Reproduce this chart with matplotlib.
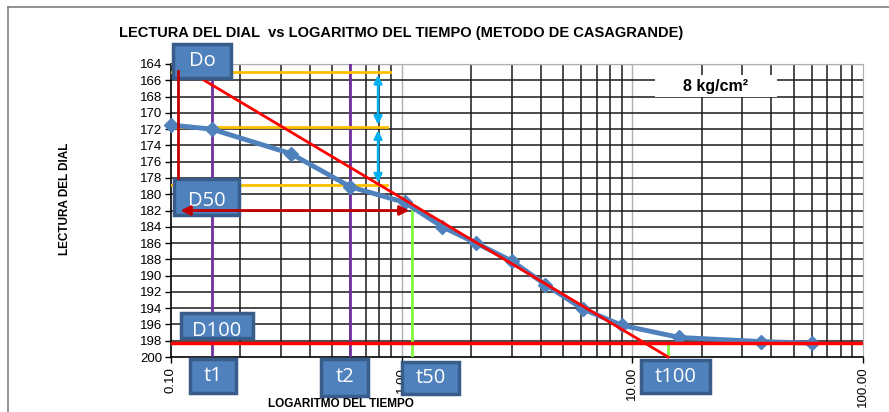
import matplotlib
matplotlib.use("Agg")
import matplotlib.pyplot as plt
import matplotlib.transforms as mtransforms
from matplotlib.patches import Rectangle
from matplotlib.lines import Line2D
import numpy as np

plt.rcParams['font.family'] = ['Liberation Sans', 'DejaVu Sans']

# ---- data ----
tiempo = [0.10, 0.15, 0.33, 0.60, 1.03, 1.5, 2.1, 3.0, 4.2, 6.1, 9.0, 16.0, 36.0, 60.0]
lectura = [171.5, 172.0, 175.0, 179.1, 181.0, 184.0, 186.0, 188.2, 191.1, 194.1, 196.1, 197.6, 198.1, 198.3]

# Casagrande construction values
t1 = 0.15
t2 = 0.60
t50 = 1.11
t100 = 14.3
d0 = 165.0
d1 = 171.8
d2 = 178.9
d50 = 182.0
d100 = 198.3
tangent_t = [0.1336, 14.3]
tangent_d = [165.7, 200.0]
x_arrow_blue = 0.79
yticks = list(range(164, 201, 2))
xticks = [0.1, 1, 10, 100]
xticklabels = ["0.10", "1.00", "10.00", "100.00"]

W, H = 889, 412
fig = plt.figure(figsize=(W / 100, H / 100), dpi=100)
fig.patch.set_facecolor('white')

L, R, T, B = 171, 863, 64, 357
ax = fig.add_axes([L / W, 1 - B / H, (R - L) / W, (B - T) / H])
ax.set_xscale('log')
ax.set_xlim(0.1, 100)
ax.set_ylim(200, 164)

# grid
minor = [m * 10.0 ** e for e in (-1, 0, 1) for m in range(2, 10)]
for x in minor:
    ax.axvline(x, color='#1a1a1a', lw=1.1, zorder=1)
for x in [1, 10]:
    ax.axvline(x, color='#b0b0b0', lw=1.0, zorder=1)
for y in yticks[1:-1]:
    ax.axhline(y, color='#1a1a1a', lw=1.1, zorder=1)
ax.axhline(164, color='#b0b0b0', lw=1.0, zorder=1)

for s in ['top', 'right']:
    ax.spines[s].set_color('#b0b0b0')
for s in ['left', 'bottom']:
    ax.spines[s].set_color('black')
    ax.spines[s].set_linewidth(1.2)

ax.set_yticks(yticks)
ax.set_yticklabels([str(v) for v in yticks], fontsize=9.5)
ax.set_xticks(xticks)
ax.set_xticklabels(xticklabels, rotation=90, fontsize=9.5)
ax.xaxis.set_minor_locator(matplotlib.ticker.NullLocator())
ax.tick_params(axis='y', length=4, width=1, pad=2)
ax.tick_params(axis='x', length=4, width=1, pad=3, direction='out')

# construction lines
ax.plot([t1, t1], [164, 200], color='#7030a0', lw=2, zorder=3)
ax.plot([t2, t2], [164, 200], color='#7030a0', lw=2, zorder=3)
ax.plot([0.1, 0.89], [d0, d0], color='#ffc000', lw=2, zorder=3)
ax.plot([0.1, 0.86], [d1, d1], color='#ffc000', lw=2, zorder=3)
ax.plot([0.1, 0.86], [d2, d2], color='#ffc000', lw=2, zorder=3)
ax.plot([t50, t50], [d50, 200], color='#7cfc3c', lw=2, zorder=3)
ax.plot([t100, t100], [d100, 200], color='#7cfc3c', lw=2, zorder=3)

# data series
ax.plot(tiempo, lectura, color='#4f81bd', lw=3.5, marker='D', markersize=7,
        markerfacecolor='#4f81bd', markeredgecolor='#4f81bd', zorder=4, clip_on=False)

ax.plot(tangent_t, tangent_d, color='#ff0000', lw=2, zorder=5, clip_on=False)
ax.plot([0.1, 98], [d100, d100], color='#ff0000', lw=2.5, zorder=5)

# pixel transform for annotation boxes (reference pixel coords)
ptrans = mtransforms.Affine2D().scale(1 / W, -1 / H).translate(0, 1) + fig.transFigure

boxes = [
    ("Do", 173, 44, 231, 78, 0.0),
    ("D50", 174, 179, 239, 215, 4),
    ("D100", 181, 313, 253, 338, 6),
    ("t1", 190, 359, 236, 393, 0.0),
    ("t2", 321, 359, 368, 396, 0.0),
    ("t50", 402, 362, 459, 394, 0.0),
    ("t100", 641, 360, 710, 393, 0.0),
]
for label, x0, y0, x1, y1, dy in boxes:
    rect = Rectangle((x0, y0), x1 - x0, y1 - y0, transform=ptrans,
                     facecolor='#4f81bd', edgecolor='#385d8a', lw=2.5, zorder=10, clip_on=False)
    ax.add_patch(rect)
    ax.text((x0 + x1) / 2 / W, 1 - ((y0 + y1) / 2 + dy) / H, label, color='white',
            fontsize=14.5, ha='center', va='center', family=['Open Sans', 'DejaVu Sans'],
            zorder=11, transform=fig.transFigure, clip_on=False)

# lines drawn over the boxes
ax.plot([0.107, 0.107], [d0 - 0.1, 178.0], color='#c00000', lw=2, zorder=12, clip_on=False)
ax.annotate('', xy=(0.107, d50), xytext=(t50, d50),
            arrowprops=dict(arrowstyle='<|-|>', color='#c00000', lw=2, mutation_scale=14),
            zorder=12, annotation_clip=False)
ax.annotate('', xy=(x_arrow_blue, d0), xytext=(x_arrow_blue, d1),
            arrowprops=dict(arrowstyle='<|-|>', color='#00b0f0', lw=1.8, mutation_scale=12), zorder=6)
ax.annotate('', xy=(x_arrow_blue, d1), xytext=(x_arrow_blue, d2),
            arrowprops=dict(arrowstyle='<|-|>', color='#00b0f0', lw=1.8, mutation_scale=12), zorder=6)

# pressure label
rect = Rectangle((655, 75), 122, 22, transform=ptrans, facecolor='white',
                 edgecolor='none', zorder=10)
fig.add_artist(rect)
fig.text(716 / W, 1 - 86 / H, "8 kg/cm²", fontsize=11.5, fontweight='bold',
         ha='center', va='center', zorder=11)

# titles
fig.text(401 / W, 1 - 33 / H, "LECTURA DEL DIAL  vs LOGARITMO DEL TIEMPO (METODO DE CASAGRANDE)",
         fontsize=10.5, fontweight='bold', ha='center', va='center')
fig.text(65 / W, 1 - 199 / H, "LECTURA DEL DIAL", fontsize=8.5, fontweight='bold',
         rotation=90, ha='center', va='center')
fig.text(341 / W, 1 - 404 / H, "LOGARITMO DEL TIEMPO", fontsize=8.5, fontweight='bold',
         ha='center', va='center')

# outer border
fig.add_artist(Line2D([8 / W, 1], [1 - 7 / H, 1 - 7 / H], transform=fig.transFigure,
                      color='#7f7f7f', lw=1.2))
fig.add_artist(Line2D([8 / W, 8 / W], [1 - 7 / H, 0], transform=fig.transFigure,
                      color='#7f7f7f', lw=1.2))

fig.savefig("out.png", dpi=100, facecolor='white')
